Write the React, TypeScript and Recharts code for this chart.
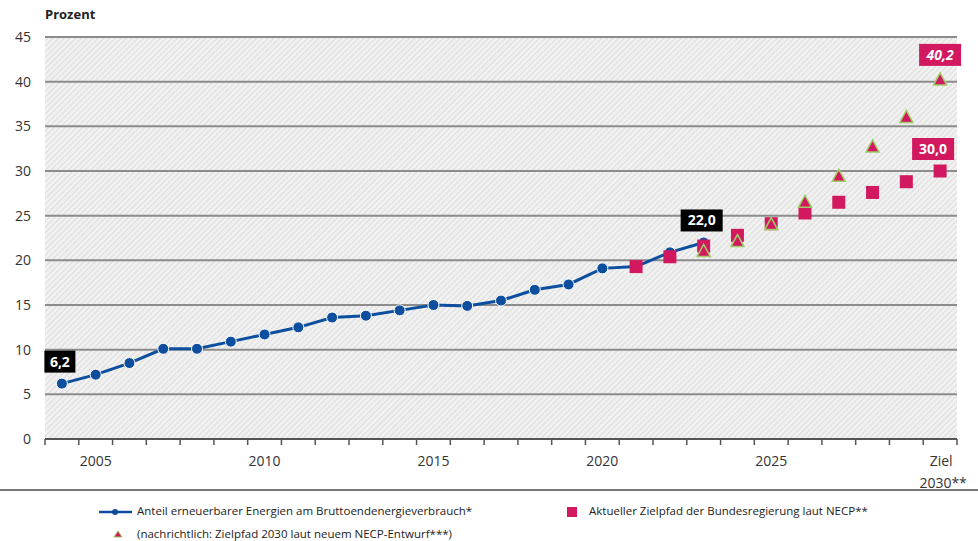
import { ComposedChart, Line, XAxis, YAxis, CartesianGrid } from 'recharts';

const years = [
  2004, 2005, 2006, 2007, 2008, 2009, 2010, 2011, 2012, 2013, 2014, 2015, 2016,
  2017, 2018, 2019, 2020, 2021, 2022, 2023, 2024, 2025, 2026, 2027, 2028, 2029, 2030,
];
// Anteil erneuerbarer Energien am Bruttoendenergieverbrauch
const shareActual = [
  6.2, 7.2, 8.5, 10.1, 10.1, 10.9, 11.7, 12.5, 13.6, 13.8, 14.4, 15.0, 14.9,
  15.5, 16.7, 17.3, 19.1, 19.3, 20.9, 22.0,
];
// Aktueller Zielpfad laut NECP (ab 2021)
const necpYears = [2021, 2022, 2023, 2024, 2025, 2026, 2027, 2028, 2029, 2030];
const necpTarget = [19.3, 20.4, 21.6, 22.8, 24.1, 25.3, 26.5, 27.6, 28.8, 30.0];
// neuer NECP-Entwurf (ab 2023)
const draftYears = [2023, 2024, 2025, 2026, 2027, 2028, 2029, 2030];
const draftTarget = [21.0, 22.1, 24.0, 26.5, 29.4, 32.7, 36.0, 40.2];

const yTicks = [0, 5, 10, 15, 20, 25, 30, 35, 40, 45];
const labelYears = [2005, 2010, 2015, 2020, 2025, 2030];
const boundaryTicks = [...years.map((y) => y - 0.5), 2030.5];

const W = 978;
const H = 541;
const X_AXIS_H = 50;
const M = { top: 37, right: 21, left: 0, bottom: 102 - X_AXIS_H };
const Y_AXIS_W = 45;
const HALF_STEP = (W - M.right - Y_AXIS_W) / years.length / 2;

const FONT = '"Open Sans", "Noto Sans", sans-serif';
const BLUE = '#0d4f9e';
const MAGENTA = '#d2185f';
const GREEN = '#9ccc65';

const data = years.map((year) => {
  const a = years.indexOf(year);
  const n = necpYears.indexOf(year);
  const d = draftYears.indexOf(year);
  return {
    year,
    share: a < shareActual.length ? shareActual[a] : null,
    necp: n >= 0 ? necpTarget[n] : null,
    draft: d >= 0 ? draftTarget[d] : null,
  };
});

const fmt = (v: number) => v.toFixed(1).replace('.', ',');

function XTick(props: any) {
  const { x, y, payload } = props;
  const year = payload.value + 0.5;
  if (!labelYears.includes(year)) return null;
  const cx = x + HALF_STEP;
  if (year === 2030) {
    return (
      <text x={cx} y={y + 19} textAnchor="middle" fontFamily={FONT} fontSize={14} fill="#333">
        <tspan x={cx + 1} dy={0}>Ziel</tspan>
        <tspan x={cx + 3} dy={22}>2030**</tspan>
      </text>
    );
  }
  return (
    <text x={cx} y={y + 19} textAnchor="middle" fontFamily={FONT} fontSize={14} fill="#333">
      {year}
    </text>
  );
}

function BoxLabel(opts: { show: number[]; fill: string; dx: number; dy: number; italic?: boolean }) {
  return (props: any) => {
    const { x, y, value, index } = props;
    if (value == null || !opts.show.includes(years[index])) return null;
    const cx = x + opts.dx;
    const cy = y + opts.dy;
    const w = value >= 10 ? 42 : 31;
    return (
      <g>
        <rect x={cx - w / 2} y={cy - 11} width={w} height={22} fill={opts.fill} />
        <text
          x={cx}
          y={cy + 5}
          textAnchor="middle"
          fontFamily={FONT}
          fontSize={14}
          fontWeight={700}
          fontStyle={opts.italic ? 'italic' : 'normal'}
          fill="#fff"
        >
          {fmt(value)}
        </text>
      </g>
    );
  };
}

function SquareDot(props: any) {
  const { cx, cy, value } = props;
  if (value == null) return null;
  return <rect x={cx - 6.5} y={cy - 6.5} width={13} height={13} fill={MAGENTA} />;
}

function TriangleDot(props: any) {
  const { cx, cy, value } = props;
  if (value == null) return null;
  return (
    <polygon
      points={`${cx},${cy - 7} ${cx + 6.5},${cy + 5} ${cx - 6.5},${cy + 5}`}
      fill={MAGENTA}
      stroke={GREEN}
      strokeWidth={1.5}
    />
  );
}

function Legend() {
  const txt = { fontFamily: FONT, fontSize: 11.5, color: '#222', position: 'absolute' as const };
  return (
    <>
      <div style={{ position: 'absolute', left: 0, top: 489, width: W, height: 2, background: '#777' }} />
      <svg style={{ position: 'absolute', left: 0, top: 495 }} width={W} height={46}>
        <line x1={99} x2={132} y1={17} y2={17} stroke={BLUE} strokeWidth={2.5} />
        <circle cx={115} cy={17} r={3} fill={BLUE} />
        <rect x={567} y={12} width={10} height={10} fill={MAGENTA} />
        <polygon points="118,36 122,42 114,42" fill={MAGENTA} stroke={GREEN} strokeWidth={1} />
      </svg>
      <div style={{ ...txt, left: 137, top: 503 }}>Anteil erneuerbarer Energien am Bruttoendenergieverbrauch*</div>
      <div style={{ ...txt, left: 589, top: 503 }}>Aktueller Zielpfad der Bundesregierung laut NECP**</div>
      <div style={{ ...txt, left: 137, top: 526 }}>(nachrichtlich: Zielpfad 2030 laut neuem NECP-Entwurf***)</div>
    </>
  );
}

export default function App() {
  return (
    <div style={{ position: 'absolute', left: 0, top: 0, width: W, height: H, background: '#fff' }}>
      <div
        style={{
          position: 'absolute',
          left: 45,
          top: 5,
          fontFamily: FONT,
          fontSize: 13,
          fontWeight: 700,
          color: '#222',
        }}
      >
        Prozent
      </div>
      <ComposedChart width={W} height={H} data={data} margin={M}>
        <defs>
          <pattern id="hatch" patternUnits="userSpaceOnUse" width={4} height={4} patternTransform="rotate(45)">
            <rect width={4} height={4} fill="#f1f1f1" />
            <line x1={0} y1={0} x2={0} y2={4} stroke="#d8d8d8" strokeWidth={1.6} />
          </pattern>
        </defs>
        <CartesianGrid vertical={false} fill="url(#hatch)" stroke="#8c8c8c" strokeWidth={2} />
        <XAxis
          dataKey="year"
          type="number"
          domain={[2003.5, 2030.5]}
          ticks={boundaryTicks}
          interval={0}
          tick={<XTick />}
          tickSize={6}
          axisLine={{ stroke: '#555', strokeWidth: 2 }}
          tickLine={{ stroke: '#555', strokeWidth: 1.5 }}
          height={X_AXIS_H}
        />
        <YAxis
          domain={[0, 45]}
          ticks={yTicks}
          interval={0}
          width={Y_AXIS_W}
          axisLine={false}
          tickLine={false}
          tickSize={0}
          tickMargin={14}
          tick={{ fontFamily: FONT, fontSize: 14, fill: '#333' }}
        />
        <Line
          dataKey="share"
          stroke={BLUE}
          strokeWidth={3}
          dot={{ r: 5.5, fill: BLUE, stroke: '#fff', strokeWidth: 1 }}
          label={BoxLabel({ show: [2004, 2023], fill: '#000', dx: -2, dy: -22 })}
          isAnimationActive={false}
        />
        <Line
          dataKey="necp"
          stroke="none"
          dot={<SquareDot />}
          label={BoxLabel({ show: [2030], fill: MAGENTA, dx: -7, dy: -22 })}
          isAnimationActive={false}
        />
        <Line
          dataKey="draft"
          stroke="none"
          dot={<TriangleDot />}
          label={BoxLabel({ show: [2030], fill: MAGENTA, dx: 0, dy: -25, italic: true })}
          isAnimationActive={false}
        />
      </ComposedChart>
      <Legend />
    </div>
  );
}
